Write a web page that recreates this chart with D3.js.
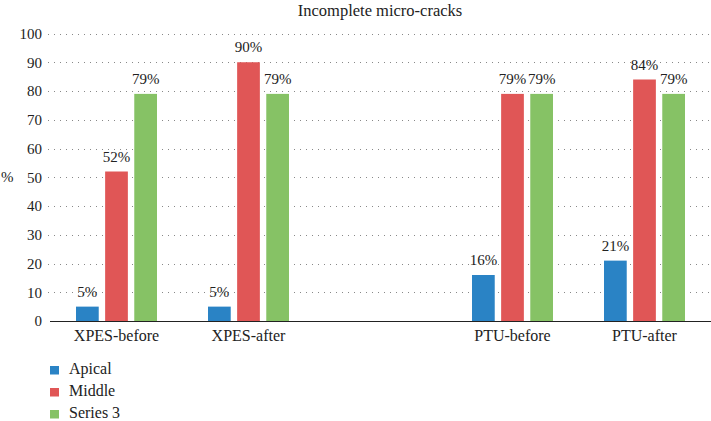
<!DOCTYPE html>
<html>
<head>
<meta charset="utf-8">
<script src="https://cdn.jsdelivr.net/npm/d3@7"></script>
<style>
  body { margin: 0; background: #fff; }
  text { font-family: "Liberation Serif", "DejaVu Serif", serif; fill: #222; }
</style>
</head>
<body>
<div id="my_dataviz"></div>
<script>
var width = 711,
    height = 421

var categories = ["XPES-before", "XPES-after", "", "PTU-before", "PTU-after"]
var seriesNames = ["Apical", "Middle", "Series 3"]
var apical = [5, 5, null, 16, 21]
var middle = [52, 90, null, 79, 84]
var series3 = [79, 79, null, 79, 79]
var yTicks = [0, 10, 20, 30, 40, 50, 60, 70, 80, 90, 100]
var colors = ["#2a83c5", "#e05656", "#86c265"]

var values = [apical, middle, series3]

var svg = d3.select("#my_dataviz")
  .append("svg")
    .attr("width", width)
    .attr("height", height)

var x = d3.scaleBand()
  .domain(d3.range(categories.length))
  .range([50.5, 710.5])

var xInner = d3.scaleBand()
  .domain(seriesNames)
  .range([0, 81])
  .paddingInner(0.22)

var y = d3.scaleLinear()
  .domain([0, 100])
  .range([321, 33.5])

// title
svg.append("text")
  .attr("x", 380)
  .attr("y", 16)
  .attr("text-anchor", "middle")
  .style("font-size", "16.5px")
  .text("Incomplete micro-cracks")

// grid
svg.selectAll("grid")
  .data(yTicks.filter(function(d){ return d > 0 }))
  .enter()
  .append("line")
    .attr("x1", 48)
    .attr("x2", 711)
    .attr("y1", function(d){ return Math.round(y(d)) + 0.5 })
    .attr("y2", function(d){ return Math.round(y(d)) + 0.5 })
    .attr("stroke", "#888")
    .attr("stroke-width", 1)
    .attr("stroke-dasharray", "1,5")

// y axis labels
var yAxis = svg.append("g")
  .attr("transform", "translate(42,0)")
  .call(d3.axisLeft(y).tickValues(yTicks).tickSize(0).tickPadding(0))
yAxis.select(".domain").remove()
yAxis.selectAll("text")
  .style("font-size", "15px")
  .style("font-family", '"Liberation Serif", serif')
  .attr("fill", "#222")

svg.append("text")
  .attr("x", 1)
  .attr("y", y(50) + 5)
  .style("font-size", "15px")
  .text("%")

// bars
var groups = svg.selectAll("groups")
  .data(categories)
  .enter()
  .append("g")
    .attr("transform", function(d, i) {
      return "translate(" + (x(i) + x.bandwidth() / 2 - 40.5) + ",0)"
    })

groups.each(function(cat, i) {
  var g = d3.select(this)
  seriesNames.forEach(function(s, j) {
    var v = values[j][i]
    if (v == null) return
    g.append("rect")
      .attr("x", xInner(s))
      .attr("y", y(v))
      .attr("width", xInner.bandwidth())
      .attr("height", y(0) - y(v))
      .attr("fill", colors[j])
    g.append("text")
      .attr("x", xInner(s) + xInner.bandwidth() / 2)
      .attr("y", y(v) - 10)
      .attr("text-anchor", "middle")
      .style("font-size", "15px")
      .text(v + "%")
  })
})

// x axis
svg.append("line")
  .attr("x1", 50)
  .attr("x2", 711)
  .attr("y1", y(0) + 0.5)
  .attr("y2", y(0) + 0.5)
  .attr("stroke", "#222")
  .attr("stroke-width", 1.2)

svg.selectAll("xlabels")
  .data(categories)
  .enter()
  .append("text")
    .attr("x", function(d, i){ return x(i) + x.bandwidth() / 2 })
    .attr("y", 341)
    .attr("text-anchor", "middle")
    .style("font-size", "16px")
    .text(function(d){ return d })

// legend
var legend = svg.selectAll("legend")
  .data(seriesNames)
  .enter()
  .append("g")
    .attr("transform", function(d, i){ return "translate(50," + (373.5 + i * 22) + ")" })

legend.append("rect")
  .attr("y", -7.5)
  .attr("width", 9)
  .attr("height", 8.5)
  .attr("fill", function(d, i){ return colors[i] })

legend.append("text")
  .attr("x", 19)
  .attr("y", 0)
  .style("font-size", "16px")
  .text(function(d){ return d })
</script>
</body>
</html>
